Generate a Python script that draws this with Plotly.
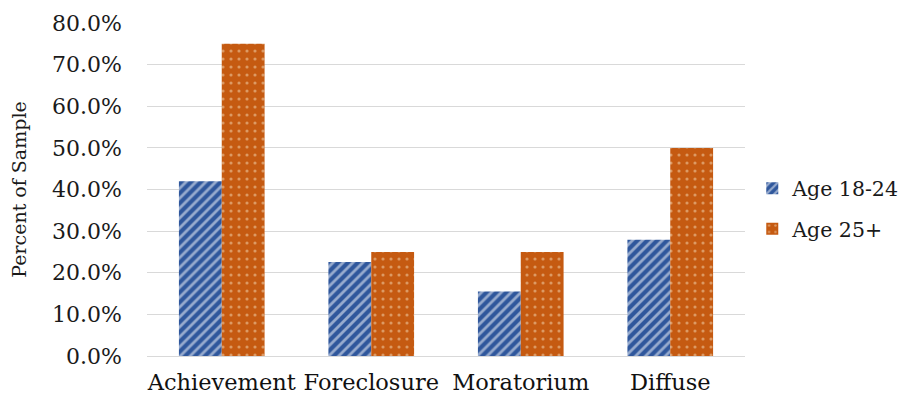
import plotly.graph_objects as go

categories = ["Achievement", "Foreclosure", "Moratorium", "Diffuse"]
age_18_24 = [0.42, 0.226, 0.155, 0.279]
age_25_plus = [0.75, 0.25, 0.25, 0.50]
y_ticks = [0, 0.1, 0.2, 0.3, 0.4, 0.5, 0.6, 0.7, 0.8]

serif = "DejaVu Serif, Georgia, serif"

fig = go.Figure()
fig.add_trace(go.Bar(
    name="Age 18-24", x=categories, y=age_18_24, legendgroup="young",
    marker=dict(color="#2f579c", line=dict(width=0),
                pattern=dict(shape="/", fgcolor="#ffffff", bgcolor="#2f579c",
                             size=7, solidity=0.4, fillmode="overlay")),
))
fig.add_trace(go.Bar(
    name="Age 25+", x=categories, y=age_25_plus, legendgroup="older",
    marker=dict(color="#c55a11", line=dict(width=0),
                pattern=dict(shape=".", fgcolor="#f3d9b8", bgcolor="#c55a11",
                             size=8, solidity=0.12, fillmode="overlay")),
))

fig.update_layout(
    width=902, height=400,
    margin=dict(l=147, r=157, t=23, b=44),
    paper_bgcolor="white", plot_bgcolor="white",
    barmode="group", bargap=0.427, bargroupgap=0,
    font=dict(family=serif, color="#1a1a1a", size=22),
    showlegend=True,
    legend=dict(xref="container", yref="container", x=0.834, y=0.478,
                xanchor="left", yanchor="middle",
                font=dict(size=20.5), tracegroupgap=11, itemwidth=30),
    xaxis=dict(showgrid=False, showline=False, ticks="", ticklabelstandoff=10,
               automargin=False, tickfont=dict(size=22.5, color="#111111")),
    yaxis=dict(range=[0, 0.8], tickvals=y_ticks, tickformat=".1%",
               showgrid=True, gridcolor="#d9d9d9", gridwidth=1,
               zeroline=True, zerolinecolor="#d9d9d9", zerolinewidth=1,
               showline=False, ticks="", ticklabelstandoff=24, automargin=False,
               tickfont=dict(size=22, color="#1a1a1a"),
               title=dict(text="Percent of Sample", font=dict(size=19), standoff=20)),
)

fig.write_html("out.html")
